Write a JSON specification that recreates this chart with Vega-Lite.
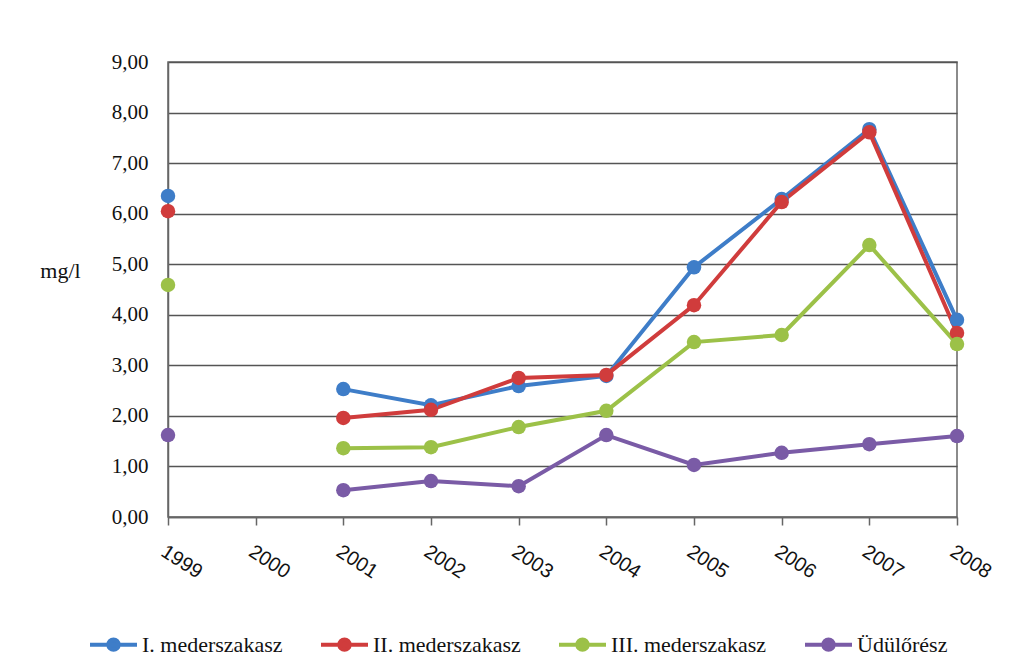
{
  "$schema": "https://vega.github.io/schema/vega-lite/v6.json",
  "width": 789,
  "height": 455,
  "autosize": "none",
  "padding": {"left": 168, "top": 62, "right": 54, "bottom": 155},
  "background": "white",
  "data": {
    "values": [
      {"year": "1999", "series": "I. mederszakasz", "value": 6.35},
      {"year": "2000", "series": "I. mederszakasz", "value": null},
      {"year": "2001", "series": "I. mederszakasz", "value": 2.53},
      {"year": "2002", "series": "I. mederszakasz", "value": 2.21},
      {"year": "2003", "series": "I. mederszakasz", "value": 2.59},
      {"year": "2004", "series": "I. mederszakasz", "value": 2.79},
      {"year": "2005", "series": "I. mederszakasz", "value": 4.94},
      {"year": "2006", "series": "I. mederszakasz", "value": 6.29},
      {"year": "2007", "series": "I. mederszakasz", "value": 7.67},
      {"year": "2008", "series": "I. mederszakasz", "value": 3.9},
      {"year": "1999", "series": "II. mederszakasz", "value": 6.05},
      {"year": "2000", "series": "II. mederszakasz", "value": null},
      {"year": "2001", "series": "II. mederszakasz", "value": 1.96},
      {"year": "2002", "series": "II. mederszakasz", "value": 2.12},
      {"year": "2003", "series": "II. mederszakasz", "value": 2.75},
      {"year": "2004", "series": "II. mederszakasz", "value": 2.81},
      {"year": "2005", "series": "II. mederszakasz", "value": 4.19},
      {"year": "2006", "series": "II. mederszakasz", "value": 6.23},
      {"year": "2007", "series": "II. mederszakasz", "value": 7.61},
      {"year": "2008", "series": "II. mederszakasz", "value": 3.64},
      {"year": "1999", "series": "III. mederszakasz", "value": 4.59},
      {"year": "2000", "series": "III. mederszakasz", "value": null},
      {"year": "2001", "series": "III. mederszakasz", "value": 1.36},
      {"year": "2002", "series": "III. mederszakasz", "value": 1.38},
      {"year": "2003", "series": "III. mederszakasz", "value": 1.78},
      {"year": "2004", "series": "III. mederszakasz", "value": 2.1},
      {"year": "2005", "series": "III. mederszakasz", "value": 3.46},
      {"year": "2006", "series": "III. mederszakasz", "value": 3.6},
      {"year": "2007", "series": "III. mederszakasz", "value": 5.38},
      {"year": "2008", "series": "III. mederszakasz", "value": 3.42},
      {"year": "1999", "series": "Üdülőrész", "value": 1.62},
      {"year": "2000", "series": "Üdülőrész", "value": null},
      {"year": "2001", "series": "Üdülőrész", "value": 0.53},
      {"year": "2002", "series": "Üdülőrész", "value": 0.71},
      {"year": "2003", "series": "Üdülőrész", "value": 0.61},
      {"year": "2004", "series": "Üdülőrész", "value": 1.62},
      {"year": "2005", "series": "Üdülőrész", "value": 1.03},
      {"year": "2006", "series": "Üdülőrész", "value": 1.27},
      {"year": "2007", "series": "Üdülőrész", "value": 1.44},
      {"year": "2008", "series": "Üdülőrész", "value": 1.6}
    ]
  },
  "encoding": {
    "x": {
      "field": "year",
      "type": "ordinal",
      "scale": {"type": "point", "padding": 0, "domain": ["1999","2000","2001","2002","2003","2004","2005","2006","2007","2008"]},
      "axis": {
        "title": null,
        "labelAngle": 33,
        "labelAlign": "left",
        "labelBaseline": "top",
        "labelFont": "Liberation Sans",
        "labelFontSize": 20,
        "labelColor": "#111",
        "labelPadding": 16,
        "tickSize": 8,
        "tickColor": "#666",
        "tickWidth": 1.5,
        "domainColor": "#666",
        "domainWidth": 1.5,
        "grid": false
      }
    },
    "y": {
      "field": "value",
      "type": "quantitative",
      "scale": {"domain": [0, 9], "nice": false},
      "axis": {
        "values": [0,1,2,3,4,5,6,7,8,9],
        "labelExpr": "replace(format(datum.value, '.2f'), '.', ',')",
        "labelFont": "'Liberation Serif', 'Times New Roman', serif",
        "labelFontSize": 21,
        "labelColor": "#111",
        "ticks": false,
        "tickSize": 0,
        "labelPadding": 20,
        "domainColor": "#666",
        "domainWidth": 1.5,
        "gridColor": "#555",
        "gridWidth": 1.5,
        "gridOpacity": 1,
        "title": "mg/l",
        "titleAngle": 0,
        "titleFont": "'Liberation Serif', 'Times New Roman', serif",
        "titleFontSize": 22,
        "titleFontWeight": "normal",
        "titleColor": "#111",
        "titleAlign": "center",
        "titleBaseline": "middle",
        "titleX": -108,
        "titleY": 208
      }
    },
    "color": {
      "field": "series",
      "type": "nominal",
      "scale": {
        "domain": ["I. mederszakasz", "II. mederszakasz", "III. mederszakasz", "Üdülőrész"],
        "range": ["#3E7DC8", "#D03C3C", "#9CC148", "#7A5BA6"]
      },
      "legend": {
        "title": null,
        "orient": "none",
        "direction": "horizontal",
        "columns": 4,
        "legendX": -80,
        "legendY": 557,
        "padding": 0,
        "symbolType": "M-1,0L1,0M-0.22,0A0.22,0.22,0,1,1,0.22,0A0.22,0.22,0,1,1,-0.22,0Z",
        "symbolSize": 2209,
        "symbolStrokeWidth": 4,
        "symbolOpacity": 1,
        "labelFont": "'Liberation Serif', 'Times New Roman', serif",
        "labelFontSize": 22,
        "labelColor": "#111",
        "labelOffset": 3,
        "labelLimit": 300,
        "columnPadding": 30
      }
    }
  },
  "layer": [
    {
      "mark": {"type": "line", "strokeWidth": 4, "invalid": "break-paths-filter-domains"}
    },
    {
      "mark": {"type": "point", "filled": true, "shape": "circle", "size": 210, "opacity": 1},
      "transform": [{"filter": "datum.value != null"}]
    }
  ],
  "config": {
    "view": {"stroke": "#666", "strokeWidth": 1.5}
  }
}
